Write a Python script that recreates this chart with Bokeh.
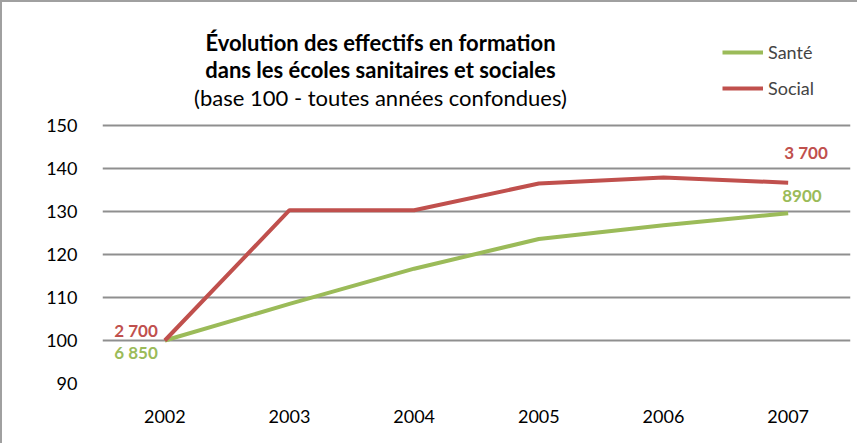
from bokeh.plotting import figure
from bokeh.models import Range1d, FixedTicker, Label, Legend, LegendItem
from bokeh.core.properties import value
from bokeh.embed import file_html
from bokeh.resources import INLINE

years = ["2002", "2003", "2004", "2005", "2006", "2007"]
sante = [100, 108.5, 116.7, 123.6, 126.8, 129.6]
social = [100, 130.3, 130.3, 136.5, 137.9, 136.7]
y_ticks = [90, 100, 110, 120, 130, 140, 150]

sante_labels_years = ["2002", "2007"]
sante_labels_vals = [100, 129.6]
sante_labels_text = ["6 850", "8900"]
social_labels_years = ["2002", "2007"]
social_labels_vals = [100, 136.7]
social_labels_text = ["2 700", "3 700"]

title_lines = ["Évolution des effectifs en formation",
               "dans les écoles sanitaires et sociales",
               "(base 100 - toutes années confondues)"]

GREEN = "#9BBB59"
RED = "#C0504D"
GRID = "#8f8f8f"
FONT = "Lato"

px_per_unit = 4.3
frame_h = 365
p = figure(width=857, height=443, x_range=years,
           y_range=Range1d(90, 90 + frame_h / px_per_unit),
           output_backend="svg", toolbar_location=None,
           min_border_left=100, min_border_right=9, min_border_top=16, min_border_bottom=62)
p.styles = {"border-left": "2px solid #a0a0a0", "border-top": "2px solid #a0a0a0"}
p.outline_line_color = None
p.xgrid.grid_line_color = None
p.ygrid.grid_line_color = GRID
p.ygrid.grid_line_width = 2
p.yaxis.ticker = FixedTicker(ticks=y_ticks)
for ax in (p.xaxis[0], p.yaxis[0]):
    ax.axis_line_color = None
    ax.major_tick_line_color = None
    ax.minor_tick_line_color = None
    ax.major_label_text_font = FONT
    ax.major_label_text_font_size = "18px"
    ax.major_label_text_color = "#000000"
p.yaxis.major_label_standoff = 19
p.xaxis.major_label_standoff = 20

p.line(years, sante, line_color=GREEN, line_width=4)
r_s = p.renderers[-1]
p.line(years, social, line_color=RED, line_width=4)
r_o = p.renderers[-1]

common = dict(text_font=value(FONT), text_font_style="bold", text_font_size="17px",
              text_baseline="middle")
p.text(x=[social_labels_years[0]], y=[social_labels_vals[0]], text=[social_labels_text[0]],
       text_color=RED, text_align="right", x_offset=-7, y_offset=-10, **common)
p.text(x=[sante_labels_years[0]], y=[sante_labels_vals[0]], text=[sante_labels_text[0]],
       text_color=GREEN, text_align="right", x_offset=-7, y_offset=12, **common)
p.text(x=[social_labels_years[1]], y=[social_labels_vals[1]], text=[social_labels_text[1]],
       text_color=RED, text_align="left", x_offset=-4, y_offset=-30, **common)
p.text(x=[sante_labels_years[1]], y=[sante_labels_vals[1]], text=[sante_labels_text[1]],
       text_color=GREEN, text_align="left", x_offset=-6, y_offset=-17, **common)

title_y = [169.3, 163.0, 156.5]
for i, line in enumerate(title_lines):
    p.add_layout(Label(x=2.23, y=title_y[i], text=line, text_align="center",
                       text_baseline="middle", text_font=FONT, text_font_size="22px",
                       text_font_style="bold" if i < 2 else "normal", text_color="#000000"))

legend = Legend(items=[LegendItem(label="Santé", renderers=[r_s]),
                       LegendItem(label="Social", renderers=[r_o])],
                location=(620, 284), orientation="vertical",
                label_text_font=FONT, label_text_font_size="18px",
                glyph_width=41, glyph_height=20, label_height=20, spacing=14,
                padding=0, margin=0, label_standoff=5,
                border_line_color=None, background_fill_alpha=0)
p.add_layout(legend)

open("out.html", "w").write(file_html(p, INLINE))
